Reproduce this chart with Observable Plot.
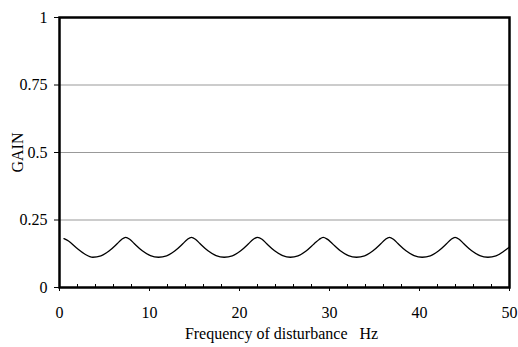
<!DOCTYPE html>
<html>
<head>
<meta charset="utf-8">
<script src="https://cdn.jsdelivr.net/npm/d3@7"></script>
<script src="https://cdn.jsdelivr.net/npm/@observablehq/plot@0.6"></script>
<style>
  html, body { margin: 0; padding: 0; background: #fff; }
  #chart { width: 518px; height: 347px; }
  #chart svg text { font-family: 'Liberation Serif', 'Times New Roman', serif; }
</style>
</head>
<body>
<div id="chart"></div>
<script>
// Frequency of disturbance (Hz) and GAIN
const freq = [
  0.5, 1.0, 1.9, 2.8, 3.7, 4.6, 5.5, 6.4, 6.9, 7.35, 7.8, 8.3, 9.2, 10.1,
  11.0, 11.9, 12.8, 13.7, 14.2, 14.65, 15.1, 15.6, 16.5, 17.4,
  18.3, 19.2, 20.1, 21.0, 21.5, 22.0, 22.5, 23.0, 23.9, 24.8,
  25.65, 26.5, 27.4, 28.3, 28.85, 29.3, 29.75, 30.3, 31.2, 32.1,
  33.0, 33.9, 34.8, 35.7, 36.2, 36.65, 37.1, 37.6, 38.5, 39.4,
  40.3, 41.2, 42.1, 43.0, 43.5, 43.95, 44.4, 44.9, 45.8, 46.7,
  47.6, 48.5, 49.4, 50.0
];
const gain = [
  0.181, 0.172, 0.146, 0.124, 0.112, 0.117, 0.135, 0.162, 0.178, 0.186, 0.179, 0.163, 0.136, 0.118,
  0.112, 0.117, 0.135, 0.162, 0.178, 0.186, 0.179, 0.163, 0.136, 0.118,
  0.112, 0.117, 0.135, 0.162, 0.178, 0.186, 0.179, 0.163, 0.136, 0.118,
  0.112, 0.117, 0.135, 0.162, 0.178, 0.186, 0.179, 0.163, 0.136, 0.118,
  0.112, 0.117, 0.135, 0.162, 0.178, 0.186, 0.179, 0.163, 0.136, 0.118,
  0.112, 0.117, 0.135, 0.162, 0.178, 0.186, 0.179, 0.163, 0.136, 0.118,
  0.112, 0.117, 0.135, 0.150
];
const xTicks = [0, 10, 20, 30, 40, 50];
const xMinorTicks = [2, 4, 6, 8, 12, 14, 16, 18, 22, 24, 26, 28, 32, 34, 36, 38, 42, 44, 46, 48];
const yTicks = [0, 0.25, 0.5, 0.75, 1];
const yTickLabels = ["0", "0.25", "0.5", "0.75", "1"];
const gridValues = [0.25, 0.5, 0.75];
const xTitle = "Frequency of disturbance\u00a0\u00a0\u00a0Hz";
const yTitle = "GAIN";

const data = freq.map((f, i) => ({f, g: gain[i]}));
const serif = "'Liberation Serif', 'Times New Roman', serif";

const chart = Plot.plot({
  width: 518,
  height: 347,
  marginLeft: 59,
  marginRight: 9,
  marginTop: 17,
  marginBottom: 60,
  style: {fontFamily: serif, fontSize: "16px", color: "#000", background: "#fff"},
  x: {domain: [0, 50]},
  y: {domain: [0, 1]},
  marks: [
    Plot.gridY(gridValues, {stroke: "#999", strokeOpacity: 1, strokeWidth: 1}),
    Plot.line(data, {x: "f", y: "g", curve: "monotone-x", stroke: "#000", strokeWidth: 1.3}),
    Plot.axisX(xTicks, {tickSize: 4, tickPadding: 15, label: null, tickFormat: d => String(d), fontSize: 16, fontFamily: serif}),
    Plot.axisX(xMinorTicks, {tickSize: -3, tickPadding: 0, label: null, tickFormat: () => "", strokeWidth: 1}),
    Plot.axisY(yTicks, {tickSize: 5, tickPadding: 7, label: null, tickFormat: (d, i) => yTickLabels[i], fontSize: 16, fontFamily: serif}),
    Plot.frame({stroke: "#000", strokeWidth: 2.5}),
    Plot.text([yTitle], {frameAnchor: "left", dx: -42, rotate: -90, textAnchor: "middle", lineAnchor: "middle", fontSize: 16, fontFamily: serif, fill: "#000"}),
    Plot.text([xTitle], {frameAnchor: "bottom", dy: 46, dx: -3, textAnchor: "middle", lineAnchor: "middle", fontSize: 16, fontFamily: serif, fill: "#000"})
  ]
});
document.getElementById("chart").appendChild(chart);
</script>
</body>
</html>
